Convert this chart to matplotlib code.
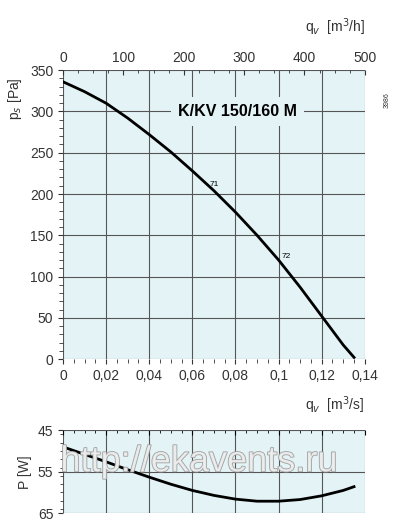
import numpy as np
import matplotlib.pyplot as plt
import matplotlib.patheffects as pe
from matplotlib.ticker import MultipleLocator, FuncFormatter

plt.rcParams['font.family'] = ['Liberation Sans', 'DejaVu Sans']

# pressure curve
q_p = [0, 0.01, 0.02, 0.03, 0.04, 0.05, 0.06, 0.07, 0.08, 0.09, 0.1, 0.11, 0.12, 0.13, 0.135]
ps = [336, 324, 310, 292, 272, 251, 228, 204, 178, 150, 120, 87, 52, 17, 2]
# power curve
q_w = [0, 0.01, 0.02, 0.03, 0.04, 0.05, 0.06, 0.07, 0.08, 0.09, 0.1, 0.11, 0.12, 0.13, 0.135]
pw = [49, 50.8, 52.6, 54.5, 56.3, 58.0, 59.5, 60.7, 61.6, 62.1, 62.1, 61.7, 60.8, 59.5, 58.6]

bg = '#e4f4f6'
comma = FuncFormatter(lambda v, p: '0' if v == 0 else f'{v:g}'.replace('.', ','))

fig = plt.figure(figsize=(4.04, 5.28), dpi=100)
ax = fig.add_axes([0.156, 0.320, 0.747, 0.547])
ax.set_facecolor(bg)
ax.plot(q_p, ps, color='black', lw=2)
ax.set_xlim(0, 0.14)
ax.set_ylim(0, 350)
ax.xaxis.set_major_locator(MultipleLocator(0.02))
ax.xaxis.set_major_formatter(comma)
ax.yaxis.set_major_locator(MultipleLocator(50))
ax.yaxis.set_minor_locator(MultipleLocator(10))
ax.xaxis.set_minor_locator(MultipleLocator(0.005))
ax.grid(True, which='major', color='#555555', lw=0.8)
ax.tick_params(which='both', direction='out', labelsize=10, colors='#333333')
ax.tick_params(which='minor', length=3)
for s in ax.spines.values():
    s.set_visible(False)
ax.text(0.081, 300, 'K/KV 150/160 M', fontsize=11.5, fontweight='bold', ha='center', va='center',
        bbox=dict(facecolor=bg, edgecolor='none', pad=5))
ax.text(0.068, 210, '71', fontsize=6)
ax.text(0.1015, 123, '72', fontsize=6)
ax.set_ylabel('p$_s$ [Pa]', fontsize=10, color='#333333')
ax.yaxis.set_label_coords(-0.13, 0.9)
ax.text(1.0, -0.16, 'q$_v$  [m$^3$/s]', transform=ax.transAxes, ha='right', va='center', fontsize=10, color='#333333')

top = ax.twiny()
top.set_xlim(0, 500)
top.xaxis.set_major_locator(MultipleLocator(100))
top.xaxis.set_minor_locator(MultipleLocator(25))
top.tick_params(which='both', direction='in', labelsize=10, colors='#333333')
for s in top.spines.values():
    s.set_visible(False)
top.text(1.0, 1.15, 'q$_v$  [m$^3$/h]', transform=ax.transAxes, ha='right', va='center', fontsize=10, color='#333333')
fig.text(0.95, 0.80, '3986', fontsize=5, rotation=90, color='#333333')

ax2 = fig.add_axes([0.156, 0.028, 0.747, 0.157])
ax2.set_facecolor(bg)
ax2.plot(q_w, pw, color='black', lw=2)
ax2.set_xlim(0, 0.14)
ax2.set_ylim(65, 45)
ax2.xaxis.set_major_locator(MultipleLocator(0.02))
ax2.xaxis.set_minor_locator(MultipleLocator(0.005))
ax2.yaxis.set_minor_locator(MultipleLocator(2))
ax2.set_yticks([45, 55, 65])
ax2.xaxis.tick_top()
ax2.tick_params(axis='x', which='both', direction='in', labeltop=False)
ax2.tick_params(axis='y', which='both', labelsize=10, colors='#333333')
ax2.grid(True, which='major', color='#555555', lw=0.8)
for s in ax2.spines.values():
    s.set_visible(False)
ax2.set_ylabel('P [W]', fontsize=10, color='#333333')
ax2.text(0.45, 0.62, 'http://ekavents.ru', transform=ax2.transAxes, ha='center', va='center',
         fontsize=26, color='#eeeeee', alpha=0.9,
         path_effects=[pe.withStroke(linewidth=1.2, foreground='#999999')])

fig.savefig('out.png', dpi=100, facecolor='white')
